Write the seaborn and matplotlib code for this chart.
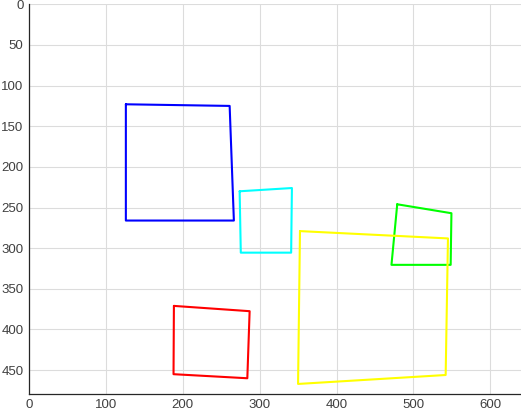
import matplotlib
matplotlib.use("Agg")
import matplotlib.pyplot as plt
import seaborn as sns
import pandas as pd

# Corner coordinates of each detected quadrilateral (image pixel coords)
shape_names = ["blue", "cyan", "green", "yellow", "red"]
shape_colors = ["#0000ff", "#00ffff", "#00ff00", "#ffff00", "#ff0000"]
blue_x = [126, 261, 266.5, 126]
blue_y = [123, 125, 266, 266]
cyan_x = [274, 342, 341, 275.5]
cyan_y = [230, 226, 305.5, 305.5]
green_x = [479, 549.5, 548.5, 471.5]
green_y = [246, 257, 320.5, 320.5]
yellow_x = [352.5, 545, 542, 350]
yellow_y = [279, 288, 456, 467]
red_x = [188.5, 287, 284, 188]
red_y = [371, 377.5, 460, 455]

xs = [blue_x, cyan_x, green_x, yellow_x, red_x]
ys = [blue_y, cyan_y, green_y, yellow_y, red_y]

rows = []
for name, px, py in zip(shape_names, xs, ys):
    closed_x = list(px) + [px[0]]
    closed_y = list(py) + [py[0]]
    for i, (a, b) in enumerate(zip(closed_x, closed_y)):
        rows.append({"shape": name, "order": i, "x": a, "y": b})
df = pd.DataFrame(rows)

sns.set_style("white")
plt.rcParams["font.family"] = ["Liberation Sans", "DejaVu Sans"]

fig = plt.figure(figsize=(5.21, 4.19), dpi=100)
ax = fig.add_axes([29 / 521, 25.3 / 419, 1 - 29 / 521, (393.7 - 4.3) / 419])

sns.lineplot(data=df, x="x", y="y", hue="shape", units="shape",
             estimator=None, sort=False, palette=dict(zip(shape_names, shape_colors)),
             linewidth=1.5, legend=False, ax=ax)

ax.set_xlim(0, 640)
ax.set_ylim(479, 0)
ax.set_xticks(range(0, 601, 100))
ax.set_yticks(range(0, 451, 50))
ax.set_xlabel("")
ax.set_ylabel("")
ax.grid(True, color="#dcdcdc", linewidth=0.8)
ax.set_axisbelow(True)
for side in ["top", "right"]:
    ax.spines[side].set_visible(False)
for side in ["left", "bottom"]:
    ax.spines[side].set_color("#262626")
    ax.spines[side].set_linewidth(0.9)
ax.tick_params(direction="in", length=3, width=0.8, color="#262626",
               labelsize=9.5, labelcolor="#404040", pad=4)

fig.savefig("out.png", dpi=100)
